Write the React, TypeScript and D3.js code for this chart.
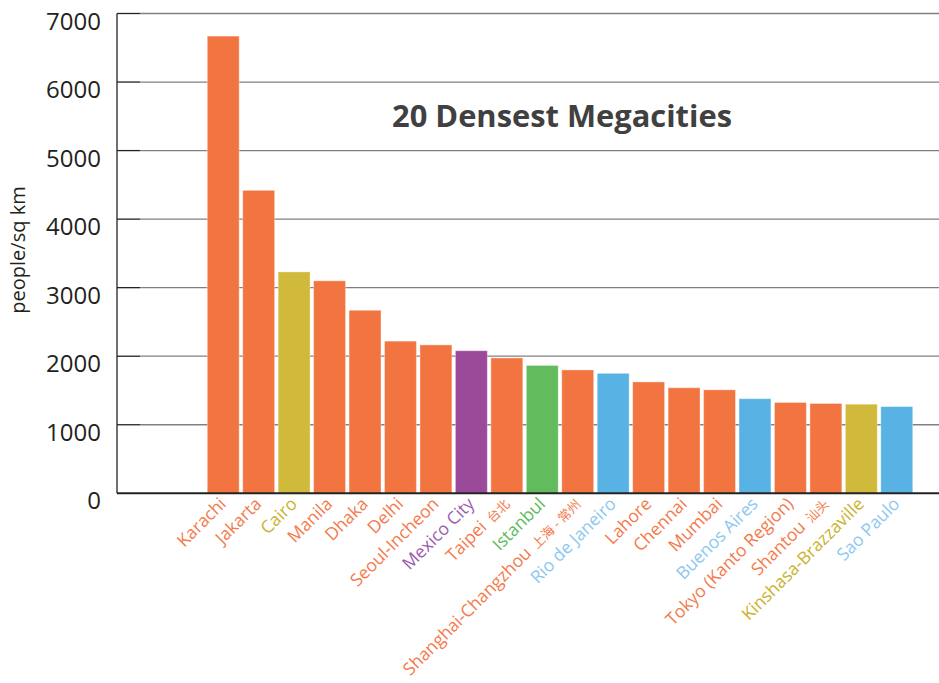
import React, { useRef, useEffect } from 'react';
import * as d3 from 'd3';

const cities = [
    'Karachi', 'Jakarta', 'Cairo', 'Manila', 'Dhaka', 'Delhi', 'Seoul-Incheon', 'Mexico City',
    'Taipei', 'Istanbul', 'Shanghai-Changzhou', 'Rio de Janeiro', 'Lahore', 'Chennai', 'Mumbai',
    'Buenos Aires', 'Tokyo (Kanto Region)', 'Shantou', 'Kinshasa-Brazzaville', 'Sao Paulo',
];
const localNames = ['', '', '', '', '', '', '', '', '台北', '', '上海 - 常州', '', '', '', '', '', '', '汕头', '', ''];
const density = [
    6670, 4420, 3230, 3100, 2670, 2220, 2165, 2080, 1975, 1865, 1800, 1750, 1625, 1540, 1510,
    1380, 1325, 1310, 1300, 1265,
];
const region = [
    'asia', 'asia', 'africa', 'asia', 'asia', 'asia', 'asia', 'namerica', 'asia', 'europe', 'asia',
    'samerica', 'asia', 'asia', 'asia', 'samerica', 'asia', 'asia', 'africa', 'samerica',
];
const yTicks = [0, 1000, 2000, 3000, 4000, 5000, 6000, 7000];

const barColors: Record<string, string> = {
    asia: '#f27541', africa: '#d1b93b', namerica: '#9a4a98', europe: '#62bc5e', samerica: '#58b2e4',
};
const labelColors: Record<string, string> = {
    asia: '#f47a4c', africa: '#cbb22c', namerica: '#9c5bb0', europe: '#5dbb5a', samerica: '#8cc8f0',
};

export default function App() {
    const svgRef = useRef<SVGSVGElement | null>(null);

    useEffect(() => {
        const width = 939;
        const height = 683;
        const font = '"Open Sans", "Noto Sans CJK SC", sans-serif';

        d3.select(svgRef.current).selectAll('*').remove();

        const svg = d3.select(svgRef.current).attr('width', width).attr('height', height);

        const x = d3.scaleBand().domain(cities).range([205.5, 914.5]).paddingInner(0.1).paddingOuter(0.05);
        const y = d3.scaleLinear().domain([0, 7000]).range([493.3, 13.5]);
        const axisX = 117;

        // gridlines + ticks
        yTicks.forEach((t) => {
            if (t > 0) {
                svg.append('line')
                    .attr('x1', 140).attr('x2', width)
                    .attr('y1', y(t)).attr('y2', y(t))
                    .attr('stroke', '#808080').attr('stroke-width', 1.3);
                svg.append('line')
                    .attr('x1', axisX).attr('x2', 140)
                    .attr('y1', y(t)).attr('y2', y(t))
                    .attr('stroke', '#222').attr('stroke-width', 1.3);
            }
            svg.append('text')
                .attr('x', 101)
                .attr('y', y(t) + 16)
                .attr('text-anchor', 'end')
                .attr('font-family', font)
                .attr('font-size', 24)
                .attr('fill', '#231f20')
                .text(t);
        });

        cities.forEach((c, i) => {
            svg.append('rect')
                .attr('x', x(c)!)
                .attr('y', y(density[i]))
                .attr('width', x.bandwidth())
                .attr('height', y(0) - y(density[i]))
                .attr('fill', barColors[region[i]])
                .attr('stroke', 'rgba(255,255,255,0.35)')
                .attr('stroke-width', 1);

            const cx = x(c)! + x.bandwidth() / 2;
            const label = svg.append('text')
                .attr('transform', `translate(${cx + 4},${505}) rotate(-45)`)
                .attr('text-anchor', 'end')
                .attr('font-family', font)
                .attr('font-size', 17.5)
                .attr('fill', labelColors[region[i]])
                .text(c);
            if (localNames[i]) {
                label.append('tspan').attr('font-size', 13).text('\u00a0\u00a0' + localNames[i]);
            }
        });

        // axes lines
        svg.append('line')
            .attr('x1', axisX).attr('x2', axisX)
            .attr('y1', y(7000)).attr('y2', y(0))
            .attr('stroke', '#222').attr('stroke-width', 1.3);
        svg.append('line')
            .attr('x1', axisX).attr('x2', width)
            .attr('y1', y(0)).attr('y2', y(0))
            .attr('stroke', '#222').attr('stroke-width', 2);

        svg.append('text')
            .attr('transform', 'translate(25,250) rotate(-90)')
            .attr('text-anchor', 'middle')
            .attr('font-family', font)
            .attr('font-size', 20)
            .attr('fill', '#231f20')
            .text('people/sq km');

        svg.append('text')
            .attr('x', 562)
            .attr('y', 127)
            .attr('text-anchor', 'middle')
            .attr('font-family', font)
            .attr('font-weight', 'bold')
            .attr('font-size', 30)
            .attr('textLength', 340)
            .attr('lengthAdjust', 'spacingAndGlyphs')
            .attr('fill', '#404040')
            .text('20 Densest Megacities');
    }, []);

    return (
        <div style={{ position: 'absolute', left: 0, top: 0 }}>
            <svg ref={svgRef}></svg>
        </div>
    );
}
